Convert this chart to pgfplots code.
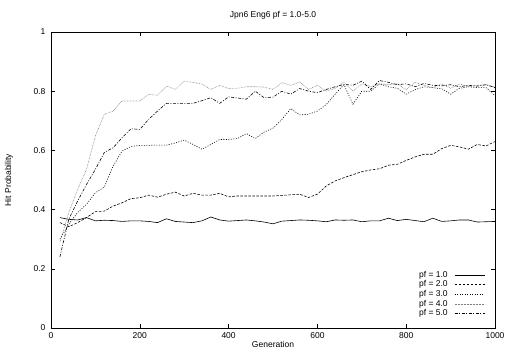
\documentclass[border=0pt]{standalone}
\usepackage{pgfplots}
\pgfplotsset{compat=1.18}
\usepackage{fontspec}
\setmainfont{Liberation Sans}
\begin{document}
\begin{tikzpicture}
\begin{axis}[
  scale only axis, width=444pt, height=296pt,
  xmin=0, xmax=1000, ymin=0, ymax=1,
  xtick={0,200,400,600,800,1000},
  xticklabels={0,200,400,600,800,1000},
  ytick={0,0.2,0.4,0.6,0.8,1},
  yticklabels={0,0.2,0.4,0.6,0.8,1},
  tick align=inside, major tick length=4pt,
  tick style={black, line width=0.6pt},
  axis line style={line width=0.9pt},
  /pgf/number format/assume math mode=true,
  ticklabel style={font=\fontsize{8.5}{10}\selectfont},
  xticklabel style={yshift=-1pt},
  yticklabel style={xshift=-2pt},
  title={Jpn6 Eng6 pf = 1.0-5.0},
  title style={font=\fontsize{8.5}{10}\selectfont, yshift=3pt},
  xlabel={Generation},
  xlabel style={font=\fontsize{8.5}{10}\selectfont, yshift=4pt},
  ylabel={Hit Probability},
  ylabel style={font=\fontsize{8.5}{10}\selectfont, yshift=14pt},
  legend plot pos=right,
  legend cell align=right,
  legend style={draw=none, fill=none, at={(1,0)}, anchor=south east, xshift=-10pt, yshift=9pt,
    font=\fontsize{8.5}{9}\selectfont, row sep=-1pt, column sep=5pt, inner sep=0pt,
    nodes={inner sep=1.5pt}},
  legend image code/.code={\draw[#1] plot coordinates {(-13pt,0pt)(2pt,0pt)(17pt,0pt)};},
  every axis plot/.append style={line width=0.6pt},
]
\addplot[black, solid] coordinates {
(20,.373)(40,.367)(60,.365)(80,.373)(100,.362)(120,.364)(140,.363)(160,.360)(180,.362)(200,.362)
(220,.360)(240,.356)(260,.369)(280,.360)(300,.358)(320,.356)(340,.362)(360,.375)(380,.365)(400,.361)
(420,.363)(440,.365)(460,.362)(480,.358)(500,.352)(520,.361)(540,.363)(560,.365)(580,.364)(600,.362)
(620,.359)(640,.365)(660,.364)(680,.365)(700,.359)(720,.362)(740,.362)(760,.371)(780,.363)(800,.367)
(820,.363)(840,.359)(860,.371)(880,.360)(900,.362)(920,.365)(940,.365)(960,.358)(980,.359)(1000,.360)};
\addlegendentry{pf = 1.0}
\addplot[black, dash pattern=on 2.5pt off 1.5pt] coordinates {
(20,.356)(40,.342)(60,.356)(80,.373)(100,.393)(120,.395)(140,.412)(160,.423)(180,.437)(200,.440)
(220,.449)(240,.442)(260,.452)(280,.459)(300,.446)(320,.455)(340,.449)(360,.449)(380,.455)(400,.443)
(420,.446)(440,.446)(460,.446)(480,.446)(500,.446)(520,.448)(540,.450)(560,.452)(580,.441)(600,.452)
(620,.480)(640,.497)(660,.508)(680,.518)(700,.528)(720,.534)(740,.538)(760,.550)(780,.553)(800,.566)
(820,.578)(840,.587)(860,.587)(880,.606)(900,.617)(920,.612)(940,.604)(960,.620)(980,.615)(1000,.630)};
\addlegendentry{pf = 2.0}
\addplot[black, dash pattern=on 1pt off 1.5pt] coordinates {
(20,.300)(40,.350)(60,.390)(80,.418)(100,.457)(120,.476)(140,.547)(160,.598)(180,.613)(200,.617)
(220,.617)(240,.618)(260,.618)(280,.625)(300,.635)(320,.620)(340,.604)(360,.620)(380,.637)(400,.637)
(420,.640)(440,.657)(460,.640)(480,.662)(500,.675)(520,.705)(540,.741)(560,.720)(580,.722)(600,.733)
(620,.755)(640,.790)(660,.822)(680,.756)(700,.800)(720,.800)(740,.825)(760,.815)(780,.810)(800,.790)
(820,.805)(840,.815)(860,.812)(880,.808)(900,.790)(920,.810)(940,.815)(960,.812)(980,.812)(1000,.785)};
\addlegendentry{pf = 3.0}
\addplot[black!50, dash pattern=on 0.6pt off 0.9pt] coordinates {
(20,.290)(40,.390)(60,.468)(80,.536)(100,.649)(120,.722)(140,.733)(160,.767)(180,.767)(200,.767)
(220,.789)(240,.786)(260,.818)(280,.806)(300,.834)(320,.830)(340,.824)(360,.806)(380,.820)(400,.809)
(420,.810)(440,.815)(460,.815)(480,.814)(500,.806)(520,.829)(540,.820)(560,.831)(580,.806)(600,.820)
(620,.800)(640,.810)(660,.831)(680,.800)(700,.825)(720,.815)(740,.825)(760,.822)(780,.825)(800,.805)
(820,.830)(840,.820)(860,.812)(880,.825)(900,.810)(920,.825)(940,.815)(960,.820)(980,.822)(1000,.815)};
\addlegendentry{pf = 4.0}
\addplot[black, dash pattern=on 3pt off 1.5pt on 1pt off 1.5pt] coordinates {
(20,.240)(40,.367)(60,.429)(80,.485)(100,.536)(120,.593)(140,.609)(160,.643)(180,.673)(200,.671)
(220,.705)(240,.733)(260,.759)(280,.759)(300,.759)(320,.759)(340,.768)(360,.778)(380,.759)(400,.781)
(420,.777)(440,.773)(460,.800)(480,.778)(500,.780)(520,.800)(540,.790)(560,.809)(580,.800)(600,.795)
(620,.806)(640,.815)(660,.823)(680,.820)(700,.834)(720,.806)(740,.836)(760,.830)(780,.822)(800,.825)
(820,.815)(840,.826)(860,.820)(880,.818)(900,.822)(920,.815)(940,.820)(960,.817)(980,.822)(1000,.812)};
\addlegendentry{pf = 5.0}
\end{axis}
\pgfresetboundingbox
\path[use as bounding box] ([xshift=-51pt,yshift=-32pt]current axis.south west) rectangle ([xshift=455pt,yshift=328pt]current axis.south west);
\end{tikzpicture}
\end{document}
